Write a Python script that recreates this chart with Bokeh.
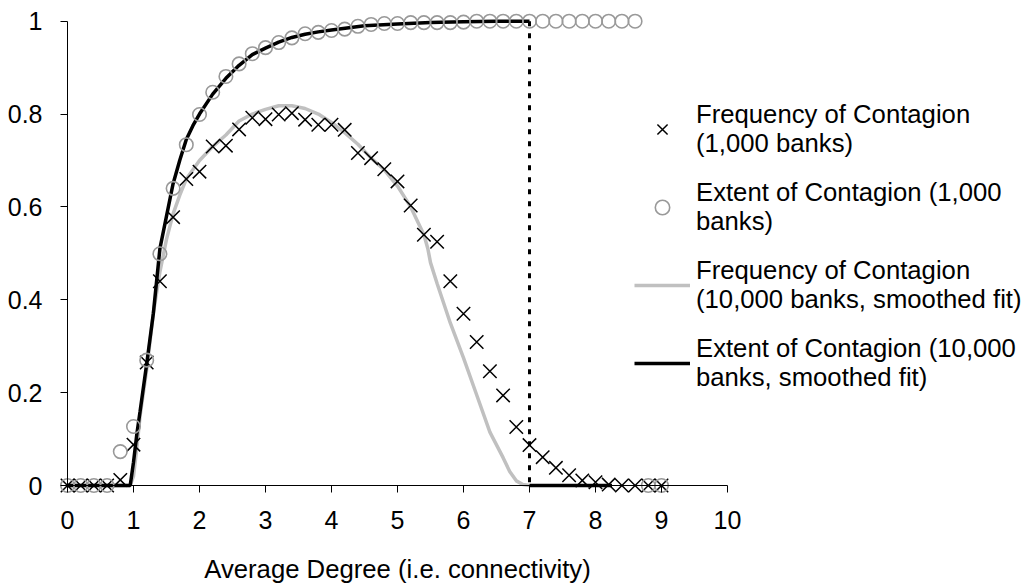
from bokeh.plotting import figure
from bokeh.models import Legend, LegendItem, FixedTicker, CustomJSTickFormatter, Range1d, LinearAxis
from bokeh.embed import file_html
from bokeh.resources import INLINE

# ---- data ----
degree_1000 = [0.0, 0.2, 0.4, 0.6, 0.8, 1.0, 1.2, 1.4, 1.6, 1.8, 2.0, 2.2, 2.4, 2.6, 2.8,
               3.0, 3.2, 3.4, 3.6, 3.8, 4.0, 4.2, 4.4, 4.6, 4.8, 5.0, 5.2, 5.4, 5.6, 5.8,
               6.0, 6.2, 6.4, 6.6, 6.8, 7.0, 7.2, 7.4, 7.6, 7.8, 8.0, 8.2, 8.4, 8.6, 8.8, 9.0]
freq_1000 = [0, 0, 0, 0, 0.012, 0.088, 0.265, 0.44, 0.578, 0.66, 0.676, 0.73, 0.732, 0.767, 0.792,
             0.789, 0.799, 0.802, 0.788, 0.777, 0.777, 0.766, 0.716, 0.705, 0.681, 0.655, 0.603, 0.54, 0.525, 0.44,
             0.37, 0.309, 0.246, 0.194, 0.126, 0.087, 0.061, 0.038, 0.022, 0.011, 0.007, 0.002, 0, 0, 0, 0]
extent_1000 = [0, 0, 0, 0, 0.073, 0.127, 0.27, 0.499, 0.64, 0.734, 0.799, 0.847, 0.881, 0.908, 0.93,
               0.943, 0.954, 0.964, 0.973, 0.976, 0.98, 0.983, 0.989, 0.993, 0.995, 0.995, 0.997, 0.997, 0.997, 0.997,
               0.998, 1, 1, 1, 1, 1, 1, 1, 1, 1, 1, 1, 1, 1, 0, 0]

degree_freq_10000 = [0.0, 0.95, 1.0, 1.05, 1.1, 1.2, 1.3, 1.4, 1.5, 1.6, 1.7, 1.8, 2.0, 2.2, 2.4, 2.6,
                     2.8, 3.0, 3.2, 3.4, 3.6, 3.8, 4.0, 4.2, 4.4, 4.6, 4.8, 5.0, 5.2, 5.4, 5.46, 5.5,
                     5.6, 5.8, 6.0, 6.2, 6.4, 6.6, 6.7, 6.8, 6.9, 7.0]
freq_10000 = [0, 0, 0.02, 0.08, 0.15, 0.25, 0.37, 0.46, 0.53, 0.585, 0.625, 0.66, 0.70, 0.73, 0.755, 0.785,
              0.80, 0.81, 0.818, 0.818, 0.812, 0.80, 0.782, 0.76, 0.735, 0.705, 0.68, 0.645, 0.60, 0.54, 0.51, 0.48,
              0.435, 0.35, 0.275, 0.195, 0.115, 0.06, 0.03, 0.01, 0.002, 0]

degree_ext_10000 = [0.0, 0.95, 1.0, 1.05, 1.1, 1.2, 1.3, 1.4, 1.5, 1.6, 1.7, 1.8, 1.9, 2.0, 2.2, 2.4,
                    2.6, 2.8, 3.0, 3.2, 3.4, 3.6, 3.8, 4.0, 4.5, 5.0, 5.5, 6.0, 6.5, 7.0]
extent_10000 = [0, 0, 0.05, 0.11, 0.16, 0.262, 0.37, 0.51, 0.58, 0.65, 0.70, 0.745, 0.775, 0.80, 0.843, 0.877,
                0.905, 0.928, 0.942, 0.955, 0.965, 0.972, 0.977, 0.981, 0.99, 0.994, 0.997, 0.999, 1.0, 1.0]
degree_ext_tail = [7.0, 8.25]
extent_tail = [0, 0]
threshold_x = [7.0, 7.0]
threshold_y = [1.0, 0.0]

x_ticks = [0, 1, 2, 3, 4, 5, 6, 7, 8, 9, 10]
y_ticks = [0, 0.2, 0.4, 0.6, 0.8, 1.0]

labels = ["Frequency of Contagion\n(1,000 banks)",
          "Extent of Contagion (1,000\nbanks)",
          "Frequency of Contagion\n(10,000 banks, smoothed fit)",
          "Extent of Contagion (10,000\nbanks, smoothed fit)"]
x_title = "Average Degree (i.e. connectivity)"

FONT = "Liberation Sans"
FS = "25px"
FS_BIG = "25.7px"

W, H = 1031, 587
X0, PX_X = 67, 66.0        # pixel of x=0, pixels per unit
Y0, PX_Y = 485, 464.3      # pixel of y=0, pixels per unit

p = figure(width=W, height=H, output_backend="svg", toolbar_location=None,
           x_range=Range1d(-X0 / PX_X, (W - X0) / PX_X),
           y_range=Range1d(-(H - Y0) / PX_Y, Y0 / PX_Y),
           x_axis_location=None, y_axis_location=None,
           min_border=0, min_border_left=0, min_border_right=0,
           min_border_top=0, min_border_bottom=0)
p.outline_line_color = None
p.grid.visible = False
p.background_fill_color = "white"
p.border_fill_color = "white"

gray = p.line(degree_freq_10000, freq_10000, line_color="#c0c0c0", line_width=3.5)
black = p.line(degree_ext_10000, extent_10000, line_color="black", line_width=3.5)
p.line(degree_ext_tail, extent_tail, line_color="black", line_width=3.5)
p.line(threshold_x, threshold_y, line_color="black", line_width=3, line_dash="5 7")
crosses = p.scatter(degree_1000, freq_1000, marker="x", size=19, line_color="black", line_width=1.5)
circles = p.scatter(degree_1000, extent_1000, marker="circle", size=13.5, fill_color=None,
                    line_color="#999999", line_width=1.6)

xaxis = LinearAxis(fixed_location=0, bounds=(0, 10), ticker=FixedTicker(ticks=x_ticks))
yaxis = LinearAxis(fixed_location=0, bounds=(0, 1), ticker=FixedTicker(ticks=y_ticks),
                   formatter=CustomJSTickFormatter(code="return (Math.round(tick*10)/10).toString();"))
for ax in (xaxis, yaxis):
    ax.axis_line_color = "black"
    ax.axis_line_width = 1
    ax.major_tick_line_color = "black"
    ax.major_tick_in = 0
    ax.major_tick_out = 7
    ax.minor_tick_line_color = None
    ax.major_label_text_font = FONT
    ax.major_label_text_font_size = FS
    ax.major_label_text_color = "black"
xaxis.major_label_standoff = 18
yaxis.major_label_standoff = 18
xaxis.axis_label = x_title
xaxis.axis_label_text_font = FONT
xaxis.axis_label_text_font_size = FS_BIG
xaxis.axis_label_text_font_style = "normal"
xaxis.axis_label_text_color = "black"
xaxis.axis_label_standoff = 23
p.add_layout(xaxis, "below")
p.add_layout(yaxis, "left")

legend = Legend(items=[LegendItem(label=labels[0], renderers=[crosses]),
                       LegendItem(label=labels[1], renderers=[circles]),
                       LegendItem(label=labels[2], renderers=[gray]),
                       LegendItem(label=labels[3], renderers=[black])],
                location=(634, 195), orientation="vertical",
                glyph_width=56, glyph_height=36, label_standoff=6, spacing=20,
                padding=0, margin=0, border_line_color=None, background_fill_alpha=0,
                label_text_font=FONT, label_text_font_size=FS_BIG, label_text_color="black",
                label_text_line_height=1.3)
p.add_layout(legend, "center")

open("out.html", "w").write(file_html(p, INLINE))
